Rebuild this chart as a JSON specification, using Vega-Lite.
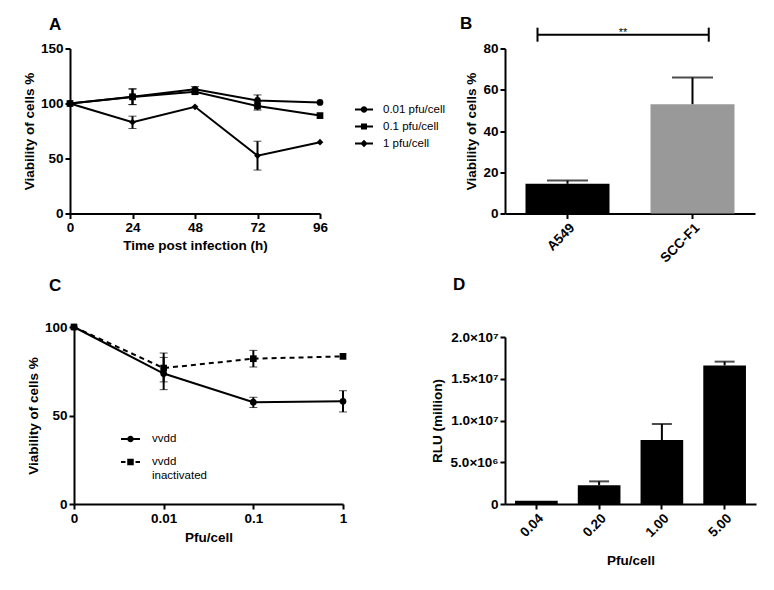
{
  "$schema": "https://vega.github.io/schema/vega-lite/v6.json",
  "padding": {"left": 22, "top": 14.5, "right": 5, "bottom": 5},
  "background": "white",
  "config": {
    "view": {"stroke": null},
    "font": "Liberation Sans",
    "axis": {
      "grid": false,
      "domainColor": "black", "domainWidth": 2,
      "tickColor": "black", "tickWidth": 2, "tickSize": 5,
      "labelFont": "Liberation Sans", "labelFontSize": 13.5, "labelFontWeight": "bold", "labelColor": "black", "labelPadding": 2,
      "titleFont": "Liberation Sans", "titleFontSize": 13.5, "titleFontWeight": "bold", "titleColor": "black",
      "labelFlush": false, "labelOverlap": false
    },
    "legend": {"labelFont": "Liberation Sans", "labelFontSize": 11.5, "labelColor": "black", "titleFont": "Liberation Sans",
               "symbolOpacity": 1, "symbolStrokeColor": "black", "symbolFillColor": "black", "symbolStrokeWidth": 1.5},
    "title": {"anchor": "start", "frame": "group", "font": "Liberation Sans", "fontSize": 17, "fontWeight": "bold", "color": "black"}
  },
  "resolve": {
    "scale": {"shape": "independent", "color": "independent"},
    "legend": {"shape": "independent", "color": "independent"}
  },
  "columns": 2,
  "spacing": {"row": 113.5, "column": 162},
  "bounds": "flush",
  "concat": [
    {
      "width": 250, "height": 165,
      "title": {"text": "A", "dx": -21, "offset": 8},
      "data": {"values": [
        {"t": 0, "s": "0.01 pfu/cell", "v": 100, "lo": 100, "hi": 100},
        {"t": 24, "s": "0.01 pfu/cell", "v": 106.2, "lo": 99, "hi": 113.5},
        {"t": 48, "s": "0.01 pfu/cell", "v": 112.9, "lo": 110.5, "hi": 115.3},
        {"t": 72, "s": "0.01 pfu/cell", "v": 102.8, "lo": 97.5, "hi": 107.8},
        {"t": 96, "s": "0.01 pfu/cell", "v": 101, "lo": 101, "hi": 101},
        {"t": 0, "s": "0.1 pfu/cell", "v": 100, "lo": 100, "hi": 100},
        {"t": 24, "s": "0.1 pfu/cell", "v": 106, "lo": 99, "hi": 113},
        {"t": 48, "s": "0.1 pfu/cell", "v": 110.7, "lo": 108.7, "hi": 112.7},
        {"t": 72, "s": "0.1 pfu/cell", "v": 97.7, "lo": 94, "hi": 101.5},
        {"t": 96, "s": "0.1 pfu/cell", "v": 89, "lo": 89, "hi": 89},
        {"t": 0, "s": "1 pfu/cell", "v": 100, "lo": 100, "hi": 100},
        {"t": 24, "s": "1 pfu/cell", "v": 83, "lo": 77.3, "hi": 88.5},
        {"t": 48, "s": "1 pfu/cell", "v": 97, "lo": 97, "hi": 97},
        {"t": 72, "s": "1 pfu/cell", "v": 52.6, "lo": 39.5, "hi": 65.7},
        {"t": 96, "s": "1 pfu/cell", "v": 64.8, "lo": 64.8, "hi": 64.8}
      ]},
      "encoding": {
        "x": {"field": "t", "type": "quantitative", "title": "Time post infection (h)",
              "scale": {"domain": [0, 96], "nice": false},
              "axis": {"values": [0, 24, 48, 72, 96], "titlePadding": 4}}
      },
      "resolve": {"scale": {"shape": "independent"}, "legend": {"shape": "independent"}},
      "layer": [
        {
          "mark": {"type": "line", "color": "black", "strokeWidth": 2},
          "encoding": {
            "y": {"field": "v", "type": "quantitative", "title": "Viability of cells %",
                  "scale": {"domain": [0, 150], "nice": false},
                  "axis": {"values": [0, 50, 100, 150], "titlePadding": 4}},
            "detail": {"field": "s", "type": "nominal"}
          }
        },
        {
          "transform": [{"filter": "datum.hi > datum.lo"}],
          "mark": {"type": "errorbar", "ticks": {"size": 8, "color": "black", "strokeWidth": 2}, "rule": {"color": "black", "strokeWidth": 2}},
          "encoding": {
            "y": {"field": "lo", "type": "quantitative", "title": "Viability of cells %"},
            "y2": {"field": "hi"}
          }
        },
        {
          "mark": {"type": "point", "filled": true, "color": "black", "size": 45, "opacity": 1},
          "encoding": {
            "y": {"field": "v", "type": "quantitative", "title": "Viability of cells %"},
            "shape": {"field": "s", "type": "nominal",
              "scale": {"domain": ["0.01 pfu/cell", "0.1 pfu/cell", "1 pfu/cell"], "range": ["circle", "square", "diamond"]},
              "legend": null}
          }
        },
        {
          "mark": {"type": "point", "filled": true, "color": "black", "opacity": 0},
          "encoding": {
            "y": {"field": "v", "type": "quantitative", "title": "Viability of cells %"},
            "shape": {"field": "s", "type": "nominal",
              "scale": {"domain": ["0.01 pfu/cell", "0.1 pfu/cell", "1 pfu/cell"],
                        "range": ["M-1.8,-0.2L-0.4,-0.2L-0.4,0.2L-1.8,0.2ZM0.4,-0.2L1.8,-0.2L1.8,0.2L0.4,0.2ZM-0.65,0A0.65,0.65,0,1,1,0.65,0A0.65,0.65,0,1,1,-0.65,0Z",
                                  "M-1.8,-0.2L-0.4,-0.2L-0.4,0.2L-1.8,0.2ZM0.4,-0.2L1.8,-0.2L1.8,0.2L0.4,0.2ZM-0.6,-0.6L0.6,-0.6L0.6,0.6L-0.6,0.6Z",
                                  "M-1.8,-0.2L-0.4,-0.2L-0.4,0.2L-1.8,0.2ZM0.4,-0.2L1.8,-0.2L1.8,0.2L0.4,0.2ZM0,-0.75L0.75,0L0,0.75L-0.75,0Z"]},
              "legend": {"title": null, "orient": "none", "legendX": 288, "legendY": 55, "symbolSize": 100, "labelOffset": 13, "rowPadding": 4}}
          }
        }
      ]
    },
    {
      "width": 250, "height": 165,
      "title": {"text": "B", "dx": -45, "offset": -6},
      "resolve": {"scale": {"x": "independent"}},
      "layer": [
        {
          "data": {"values": [
            {"g": "A549", "v": 14.4, "hi": 16.0},
            {"g": "SCC-F1", "v": 53.0, "hi": 65.9}
          ]},
          "encoding": {
            "x": {"field": "g", "type": "nominal", "sort": null, "title": null,
                  "scale": {"paddingInner": 0.328, "paddingOuter": 0.164},
                  "axis": {"labelAngle": -45}}
          },
          "layer": [
            {
              "mark": {"type": "bar"},
              "encoding": {
                "y": {"field": "v", "type": "quantitative", "title": "Viability of cells %",
                      "scale": {"domain": [0, 80], "nice": false},
                      "axis": {"values": [0, 20, 40, 60, 80], "titlePadding": 4}},
                "color": {"field": "g", "type": "nominal", "scale": {"domain": ["A549", "SCC-F1"], "range": ["black", "#999999"]}, "legend": null}
              }
            },
            {
              "mark": {"type": "rule", "color": "black", "strokeWidth": 2},
              "encoding": {
                "y": {"field": "v", "type": "quantitative", "title": "Viability of cells %"},
                "y2": {"field": "hi"}
              }
            },
            {
              "mark": {"type": "tick", "color": "black", "thickness": 2, "size": 41},
              "encoding": {
                "y": {"field": "hi", "type": "quantitative", "title": "Viability of cells %"}
              }
            }
          ]
        },
        {
          "data": {"values": [{"a": 0.26, "b": 1.63, "y": 86.7, "ylo": 83.3, "yhi": 90.1, "m": 0.945, "ty": 85.9, "label": "**"}]},
          "layer": [
            {
              "mark": {"type": "rule", "color": "black", "strokeWidth": 2},
              "encoding": {
                "x": {"field": "a", "type": "quantitative", "scale": {"domain": [0, 2], "nice": false}, "axis": null},
                "x2": {"field": "b"},
                "y": {"field": "y", "type": "quantitative", "title": "Viability of cells %"}
              }
            },
            {
              "mark": {"type": "rule", "color": "black", "strokeWidth": 2},
              "encoding": {
                "x": {"field": "a", "type": "quantitative", "axis": null},
                "y": {"field": "ylo", "type": "quantitative", "title": "Viability of cells %"},
                "y2": {"field": "yhi"}
              }
            },
            {
              "mark": {"type": "rule", "color": "black", "strokeWidth": 2},
              "encoding": {
                "x": {"field": "b", "type": "quantitative", "axis": null},
                "y": {"field": "ylo", "type": "quantitative", "title": "Viability of cells %"},
                "y2": {"field": "yhi"}
              }
            },
            {
              "mark": {"type": "text", "fontSize": 11, "baseline": "alphabetic", "fill": "black"},
              "encoding": {
                "x": {"field": "m", "type": "quantitative", "axis": null},
                "y": {"field": "ty", "type": "quantitative", "title": "Viability of cells %"},
                "text": {"field": "label"}
              }
            }
          ]
        }
      ]
    },
    {
      "width": 273, "height": 177,
      "title": {"text": "C", "dx": -21, "offset": 25},
      "data": {"values": [
        {"d": "0", "s": "vvdd", "v": 100, "lo": 100, "hi": 100},
        {"d": "0.01", "s": "vvdd", "v": 73.7, "lo": 64.6, "hi": 82.8},
        {"d": "0.1", "s": "vvdd", "v": 57.5, "lo": 54.5, "hi": 60.3},
        {"d": "1", "s": "vvdd", "v": 58, "lo": 52, "hi": 64},
        {"d": "0", "s": "vvdd inactivated", "v": 100, "lo": 100, "hi": 100},
        {"d": "0.01", "s": "vvdd inactivated", "v": 76.8, "lo": 69, "hi": 85.3},
        {"d": "0.1", "s": "vvdd inactivated", "v": 82.1, "lo": 77.4, "hi": 86.8},
        {"d": "1", "s": "vvdd inactivated", "v": 83.4, "lo": 83.4, "hi": 83.4}
      ]},
      "encoding": {
        "x": {"field": "d", "type": "ordinal", "sort": null, "title": "Pfu/cell",
              "scale": {"type": "point", "padding": 0, "range": [4, 273]},
              "axis": {"labelAngle": 0, "titlePadding": 6}}
      },
      "resolve": {"scale": {"shape": "independent"}, "legend": {"shape": "independent"}},
      "layer": [
        {
          "transform": [{"filter": "datum.s == 'vvdd'"}],
          "mark": {"type": "line", "color": "black", "strokeWidth": 2},
          "encoding": {
            "y": {"field": "v", "type": "quantitative", "title": "Viability of cells %",
                  "scale": {"domain": [0, 100], "nice": false},
                  "axis": {"values": [0, 50, 100], "titlePadding": 4, "offset": -4}}
          }
        },
        {
          "transform": [{"filter": "datum.s == 'vvdd inactivated'"}],
          "mark": {"type": "line", "color": "black", "strokeWidth": 2, "strokeDash": [5, 4]},
          "encoding": {
            "y": {"field": "v", "type": "quantitative", "title": "Viability of cells %"}
          }
        },
        {
          "transform": [{"filter": "datum.hi > datum.lo"}],
          "mark": {"type": "errorbar", "ticks": {"size": 8, "color": "black", "strokeWidth": 2}, "rule": {"color": "black", "strokeWidth": 2}},
          "encoding": {
            "y": {"field": "lo", "type": "quantitative", "title": "Viability of cells %"},
            "y2": {"field": "hi"}
          }
        },
        {
          "mark": {"type": "point", "filled": true, "color": "black", "size": 45, "opacity": 1},
          "encoding": {
            "y": {"field": "v", "type": "quantitative", "title": "Viability of cells %"},
            "shape": {"field": "s", "type": "nominal",
              "scale": {"domain": ["vvdd", "vvdd inactivated"], "range": ["circle", "square"]},
              "legend": null}
          }
        },
        {
          "mark": {"type": "point", "filled": true, "color": "black", "opacity": 0},
          "encoding": {
            "y": {"field": "v", "type": "quantitative", "title": "Viability of cells %"},
            "shape": {"field": "s", "type": "nominal",
              "scale": {"domain": ["vvdd", "vvdd inactivated"],
                        "range": ["M-1.9,-0.2L-0.4,-0.2L-0.4,0.2L-1.9,0.2ZM0.4,-0.2L1.9,-0.2L1.9,0.2L0.4,0.2ZM-0.65,0A0.65,0.65,0,1,1,0.65,0A0.65,0.65,0,1,1,-0.65,0Z",
                                  "M-1.9,-0.2L-1.0,-0.2L-1.0,0.2L-1.9,0.2ZM1.0,-0.2L1.9,-0.2L1.9,0.2L1.0,0.2ZM-0.65,-0.65L0.65,-0.65L0.65,0.65L-0.65,0.65Z"]},
              "legend": {"title": null, "orient": "none", "legendX": 54.5, "legendY": 106, "symbolSize": 100, "labelOffset": 15.5, "rowPadding": 9,
                         "labelExpr": "datum.label == 'vvdd inactivated' ? ['vvdd', 'inactivated'] : datum.label"}}
          }
        }
      ]
    },
    {
      "width": 251, "height": 177,
      "title": {"text": "D", "dx": -52, "offset": 33.5},
      "data": {"values": [
        {"p": "0.04", "v": 400000, "hi": 400000},
        {"p": "0.20", "v": 2240000, "hi": 2710000},
        {"p": "1.00", "v": 7660000, "hi": 9580000},
        {"p": "5.00", "v": 16600000, "hi": 17050000}
      ]},
      "encoding": {
        "x": {"field": "p", "type": "nominal", "sort": null, "title": "Pfu/cell",
              "scale": {"paddingInner": 0.32, "paddingOuter": 0.16},
              "axis": {"labelAngle": -45, "titlePadding": 14}}
      },
      "layer": [
        {
          "mark": {"type": "bar", "color": "black"},
          "encoding": {
            "y": {"field": "v", "type": "quantitative", "title": "RLU (million)",
                  "scale": {"domain": [0, 20000000], "nice": false, "range": [177, 10]},
                  "axis": {"values": [0, 5000000, 10000000, 15000000, 20000000], "titlePadding": 6,
                           "labelExpr": "datum.value == 0 ? '0' : datum.value == 5000000 ? '5.0×10⁶' : datum.value == 10000000 ? '1.0×10⁷' : datum.value == 15000000 ? '1.5×10⁷' : '2.0×10⁷'"}}
          }
        },
        {
          "transform": [{"filter": "datum.hi > datum.v"}],
          "mark": {"type": "rule", "color": "black", "strokeWidth": 2},
          "encoding": {
            "y": {"field": "v", "type": "quantitative", "title": "RLU (million)"},
            "y2": {"field": "hi"}
          }
        },
        {
          "transform": [{"filter": "datum.hi > datum.v"}],
          "mark": {"type": "tick", "color": "black", "thickness": 2, "size": 20},
          "encoding": {
            "y": {"field": "hi", "type": "quantitative", "title": "RLU (million)"}
          }
        }
      ]
    }
  ]
}
